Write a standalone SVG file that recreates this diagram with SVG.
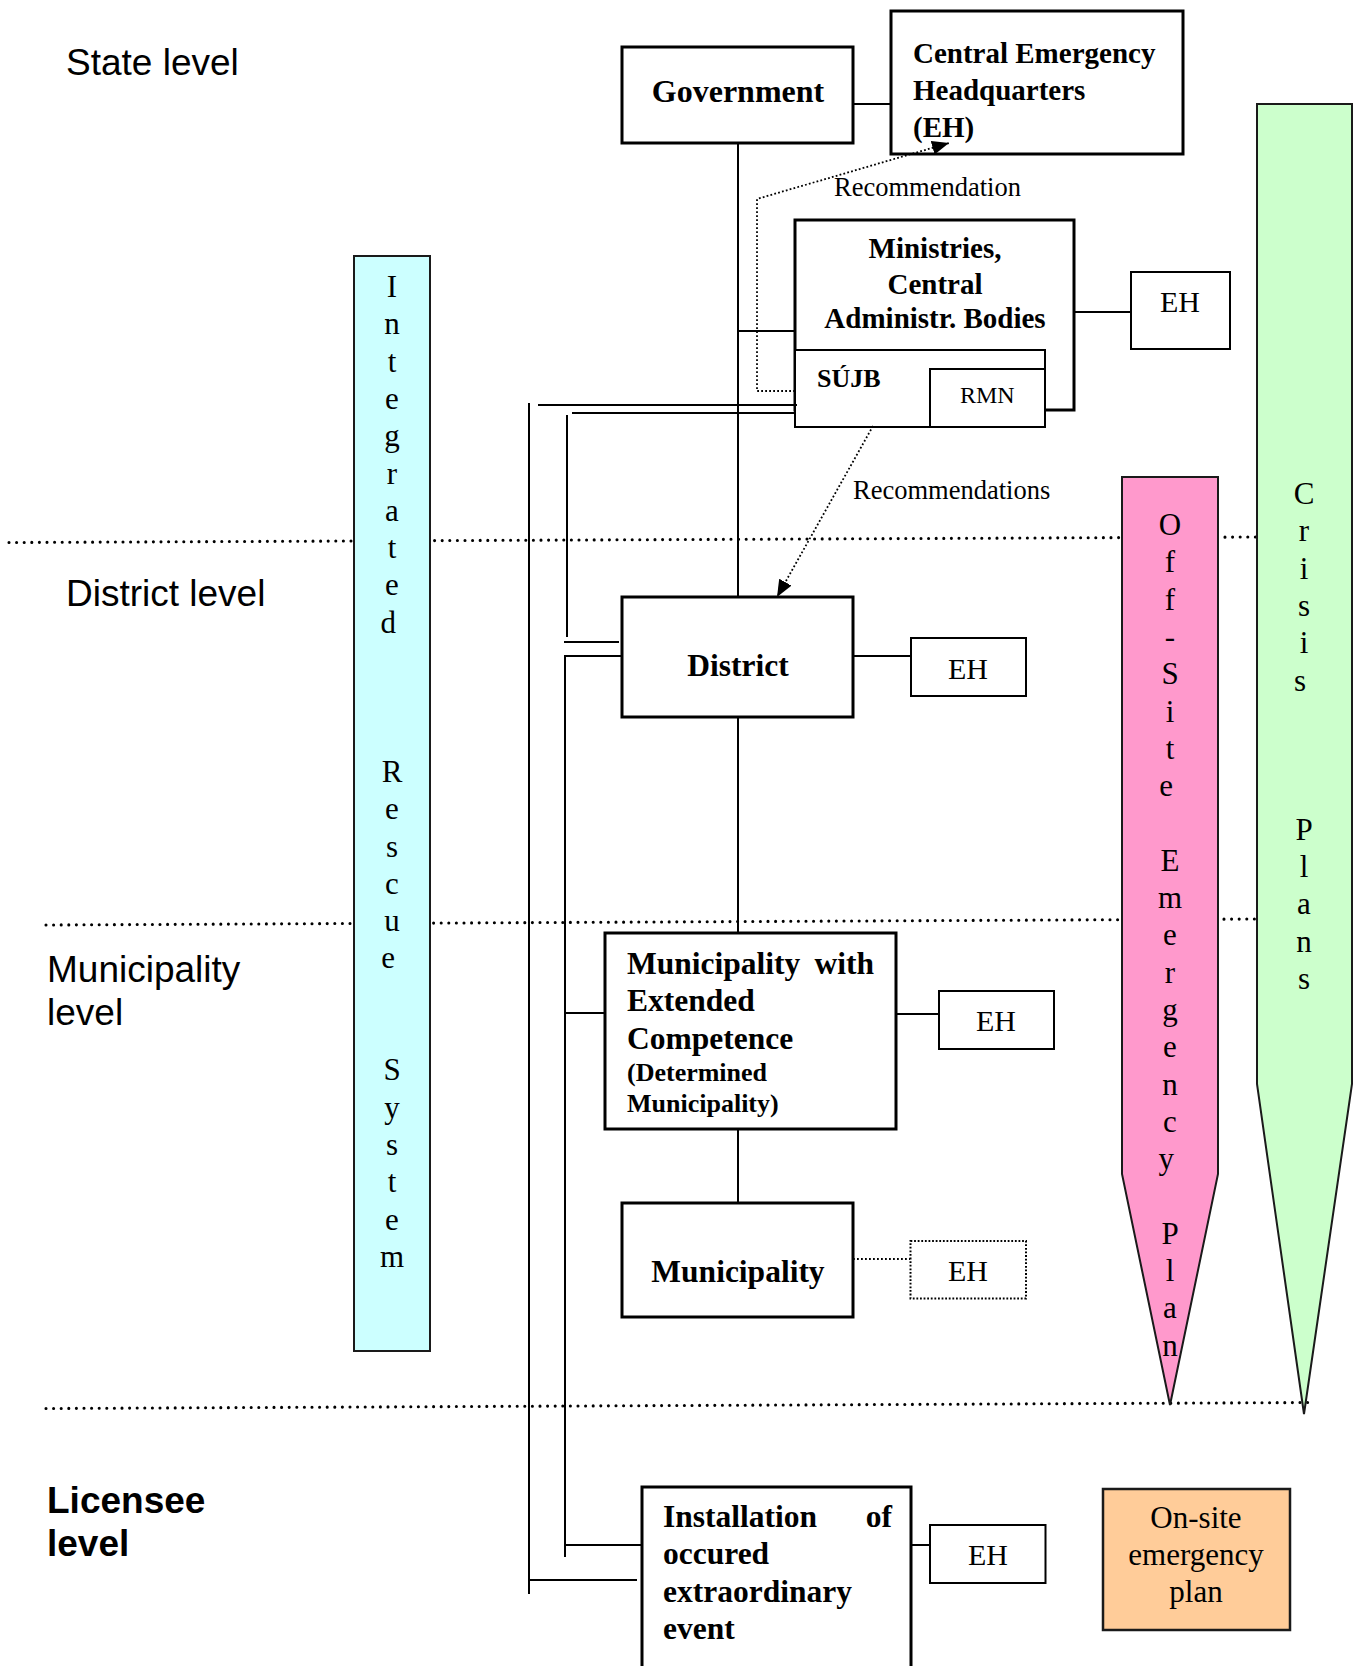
<svg xmlns="http://www.w3.org/2000/svg" width="1358" height="1666" viewBox="0 0 1358 1666">
  <style>
    .lvl { font-family: "Liberation Sans", Arial, sans-serif; font-size: 37px; fill: #000; }
    .lvlb { font-family: "Liberation Sans", Arial, sans-serif; font-size: 37px; font-weight: bold; fill: #000; }
    .sb { font-family: "Liberation Serif", "Times New Roman", serif; font-weight: bold; fill: #000; }
    .sr { font-family: "Liberation Serif", "Times New Roman", serif; fill: #000; }
    .vert { font-family: "Liberation Serif", "Times New Roman", serif; font-size: 31px; fill: #000; text-anchor: middle; }
    .box { fill: #fff; stroke: #000; stroke-width: 3; }
    .boxt { fill: #fff; stroke: #000; stroke-width: 2; }
    .band { stroke: #1a1a1a; stroke-width: 2; }
    .link { fill: none; stroke: #000; stroke-width: 2; }
    .dots { fill: none; stroke: #000; stroke-width: 1.8; stroke-dasharray: 1.8 2.2; }
    .level { fill: none; stroke: #000; stroke-width: 3.1; stroke-linecap: round; stroke-dasharray: 0 7.6; }
  </style>
  <defs>
    <marker id="arrow" markerUnits="userSpaceOnUse" markerWidth="18" markerHeight="15" refX="17" refY="7" orient="auto">
      <path d="M0,0 L17,7 L0,14 z" fill="#000"/>
    </marker>
  </defs>
  <rect width="1358" height="1666" fill="#fff"/>

  <!-- level separators -->
  <g id="levels">
    <line class="level" x1="9" y1="542.5" x2="1256" y2="537"/>
    <line class="level" x1="46" y1="925" x2="1256" y2="919"/>
    <line class="level" x1="46" y1="1408.5" x2="1312" y2="1402.5"/>
    <text class="lvl" x="66" y="75">State level</text>
    <text class="lvl" x="66" y="606">District level</text>
    <text class="lvl" x="47" y="982">Municipality</text>
    <text class="lvl" x="47" y="1025">level</text>
    <text class="lvlb" x="47" y="1513">Licensee</text>
    <text class="lvlb" x="47" y="1556">level</text>
  </g>

  <!-- side bands -->
  <g id="integrated-rescue-system">
    <rect class="band" x="354" y="256" width="76" height="1095" fill="#CCFFFF"/>
    <text class="vert">
      <tspan x="392" y="297">I</tspan><tspan x="392" y="334.3">n</tspan><tspan x="392" y="371.6">t</tspan><tspan x="392" y="408.9">e</tspan><tspan x="392" y="446.2">g</tspan><tspan x="392" y="483.5">r</tspan><tspan x="392" y="520.8">a</tspan><tspan x="392" y="558.1">t</tspan><tspan x="392" y="595.4">e</tspan><tspan x="392" y="632.7">d</tspan>
      <tspan x="392" y="781.9">R</tspan><tspan x="392" y="819.2">e</tspan><tspan x="392" y="856.5">s</tspan><tspan x="392" y="893.8">c</tspan><tspan x="392" y="931.1">u</tspan><tspan x="392" y="968.4">e</tspan>
      <tspan x="392" y="1080.3">S</tspan><tspan x="392" y="1117.6">y</tspan><tspan x="392" y="1154.9">s</tspan><tspan x="392" y="1192.2">t</tspan><tspan x="392" y="1229.5">e</tspan><tspan x="392" y="1266.8">m</tspan>
    </text>
  </g>

  <g id="off-site-emergency-plan">
    <polygon class="band" points="1122,477 1218,477 1218,1174 1170,1405 1122,1174" fill="#FF99CC"/>
    <text class="vert">
      <tspan x="1170" y="535">O</tspan><tspan x="1170" y="572.3">f</tspan><tspan x="1170" y="609.6">f</tspan><tspan x="1170" y="646.9">-</tspan><tspan x="1170" y="684.2">S</tspan><tspan x="1170" y="721.5">i</tspan><tspan x="1170" y="758.8">t</tspan><tspan x="1170" y="796.1">e</tspan>
      <tspan x="1170" y="870.7">E</tspan><tspan x="1170" y="908">m</tspan><tspan x="1170" y="945.3">e</tspan><tspan x="1170" y="982.6">r</tspan><tspan x="1170" y="1019.9">g</tspan><tspan x="1170" y="1057.2">e</tspan><tspan x="1170" y="1094.5">n</tspan><tspan x="1170" y="1131.8">c</tspan><tspan x="1170" y="1169.1">y</tspan>
      <tspan x="1170" y="1243.7">P</tspan><tspan x="1170" y="1281">l</tspan><tspan x="1170" y="1318.3">a</tspan><tspan x="1170" y="1355.6">n</tspan>
    </text>
  </g>

  <g id="crisis-plans">
    <polygon class="band" points="1257,104 1352,104 1352,1084 1304,1414 1257,1084" fill="#CCFFCC"/>
    <text class="vert">
      <tspan x="1304" y="504">C</tspan><tspan x="1304" y="541.3">r</tspan><tspan x="1304" y="578.6">i</tspan><tspan x="1304" y="615.9">s</tspan><tspan x="1304" y="653.2">i</tspan><tspan x="1304" y="690.5">s</tspan>
      <tspan x="1304" y="839.7">P</tspan><tspan x="1304" y="877">l</tspan><tspan x="1304" y="914.3">a</tspan><tspan x="1304" y="951.6">n</tspan><tspan x="1304" y="988.9">s</tspan>
    </text>
  </g>

  <!-- state level -->
  <g id="government">
    <rect class="box" x="622" y="47" width="231" height="96"/>
    <text class="sb" x="738" y="102" font-size="32" text-anchor="middle">Government</text>
  </g>
  <g id="central-eh">
    <rect class="box" x="891" y="11" width="292" height="143"/>
    <text class="sb" x="913" y="63" font-size="29">Central Emergency</text>
    <text class="sb" x="913" y="100" font-size="29">Headquarters</text>
    <text class="sb" x="913" y="137" font-size="29">(EH)</text>
  </g>
  <g id="ministries">
    <rect class="box" x="795" y="220" width="279" height="190"/>
    <text class="sb" x="935" y="258" font-size="29" text-anchor="middle">Ministries,</text>
    <text class="sb" x="935" y="294" font-size="29" text-anchor="middle">Central</text>
    <text class="sb" x="935" y="328" font-size="29" text-anchor="middle">Administr. Bodies</text>
  </g>
  <g id="sujb">
    <rect class="boxt" x="795" y="350" width="250" height="77"/>
    <text class="sb" x="817" y="387" font-size="26">SÚJB</text>
  </g>
  <g id="rmn">
    <rect class="boxt" x="930" y="369" width="115" height="58"/>
    <text class="sr" x="960" y="403" font-size="24">RMN</text>
  </g>
  <g id="eh-ministries">
    <rect class="boxt" x="1131" y="272" width="99" height="77"/>
    <text class="sr" x="1180" y="312" font-size="30" text-anchor="middle">EH</text>
  </g>

  <!-- district level -->
  <g id="district">
    <rect class="box" x="622" y="597" width="231" height="120"/>
    <text class="sb" x="738" y="676" font-size="31.5" text-anchor="middle">District</text>
  </g>
  <g id="eh-district">
    <rect class="boxt" x="911" y="638" width="115" height="58"/>
    <text class="sr" x="968" y="679" font-size="30" text-anchor="middle">EH</text>
  </g>

  <!-- municipality level -->
  <g id="municipality-extended">
    <rect class="box" x="605" y="933" width="291" height="196"/>
    <text class="sb" x="627" y="973.5" font-size="31.5">Municipality</text>
    <text class="sb" x="874" y="973.5" font-size="31.5" text-anchor="end">with</text>
    <text class="sb" x="627" y="1011" font-size="31.5">Extended</text>
    <text class="sb" x="627" y="1049" font-size="31.5">Competence</text>
    <text class="sb" x="627" y="1081" font-size="26">(Determined</text>
    <text class="sb" x="627" y="1112" font-size="26">Municipality)</text>
  </g>
  <g id="eh-municipality-extended">
    <rect class="boxt" x="939" y="991" width="115" height="58"/>
    <text class="sr" x="996" y="1031" font-size="30" text-anchor="middle">EH</text>
  </g>
  <g id="municipality">
    <rect class="box" x="622" y="1203" width="231" height="114"/>
    <text class="sb" x="738" y="1282" font-size="31.5" text-anchor="middle">Municipality</text>
  </g>
  <g id="eh-municipality">
    <rect x="910.5" y="1241" width="115.5" height="57.5" fill="#fff" stroke="#000" stroke-width="2" stroke-dasharray="1.8 1.8"/>
    <text class="sr" x="968" y="1281" font-size="30" text-anchor="middle">EH</text>
  </g>

  <!-- licensee level -->
  <g id="installation">
    <rect class="box" x="642" y="1487" width="269" height="200"/>
    <text class="sb" x="663" y="1527" font-size="31.5">Installation</text>
    <text class="sb" x="892" y="1527" font-size="31.5" text-anchor="end">of</text>
    <text class="sb" x="663" y="1564" font-size="31.5">occured</text>
    <text class="sb" x="663" y="1602" font-size="31.5">extraordinary</text>
    <text class="sb" x="663" y="1639" font-size="31.5">event</text>
  </g>
  <g id="eh-installation">
    <rect class="boxt" x="930" y="1525" width="115.5" height="58"/>
    <text class="sr" x="988" y="1565" font-size="30" text-anchor="middle">EH</text>
  </g>
  <g id="on-site-plan">
    <rect x="1103" y="1489" width="187" height="141" fill="#FFCC99" stroke="#1a1a1a" stroke-width="2.5"/>
    <text class="sr" x="1196" y="1528" font-size="31" text-anchor="middle">On-site</text>
    <text class="sr" x="1196" y="1565" font-size="31" text-anchor="middle">emergency</text>
    <text class="sr" x="1196" y="1602" font-size="31" text-anchor="middle">plan</text>
  </g>

  <!-- connectors (drawn last so the recommendation arrow sits over the EH box) -->
  <g id="connectors">
    <line class="link" x1="853" y1="104" x2="891" y2="104"/>
    <line class="link" x1="738" y1="143" x2="738" y2="597"/>
    <line class="link" x1="738" y1="331" x2="795" y2="331"/>
    <line class="link" x1="1074" y1="312" x2="1131" y2="312"/>
    <line class="link" x1="529" y1="403" x2="529" y2="1594"/>
    <line class="link" x1="538" y1="405" x2="797" y2="405"/>
    <line class="link" x1="529" y1="1580" x2="637" y2="1580"/>
    <line class="link" x1="572" y1="413" x2="795" y2="413"/>
    <line class="link" x1="567" y1="415" x2="567" y2="637"/>
    <line class="link" x1="564" y1="642" x2="619" y2="642"/>
    <polyline class="link" points="622,656 565,656 565,1557"/>
    <line class="link" x1="565" y1="1013" x2="605" y2="1013"/>
    <line class="link" x1="565" y1="1545" x2="642" y2="1545"/>
    <line class="link" x1="853" y1="656" x2="911" y2="656"/>
    <line class="link" x1="738" y1="717" x2="738" y2="933"/>
    <line class="link" x1="896" y1="1014" x2="939" y2="1014"/>
    <line class="link" x1="738" y1="1129" x2="738" y2="1203"/>
    <line class="dots" x1="853" y1="1259" x2="910" y2="1259"/>
    <line class="link" x1="911" y1="1545" x2="930" y2="1545"/>
    <polyline class="dots" points="795,391 757,391 757,199 949,143" marker-end="url(#arrow)"/>
    <line class="dots" x1="873" y1="426" x2="777" y2="597" marker-end="url(#arrow)"/>
    <text class="sr" x="834" y="196" font-size="26.5">Recommendation</text>
    <text class="sr" x="853" y="498.5" font-size="26.5">Recommendations</text>
  </g>
</svg>
